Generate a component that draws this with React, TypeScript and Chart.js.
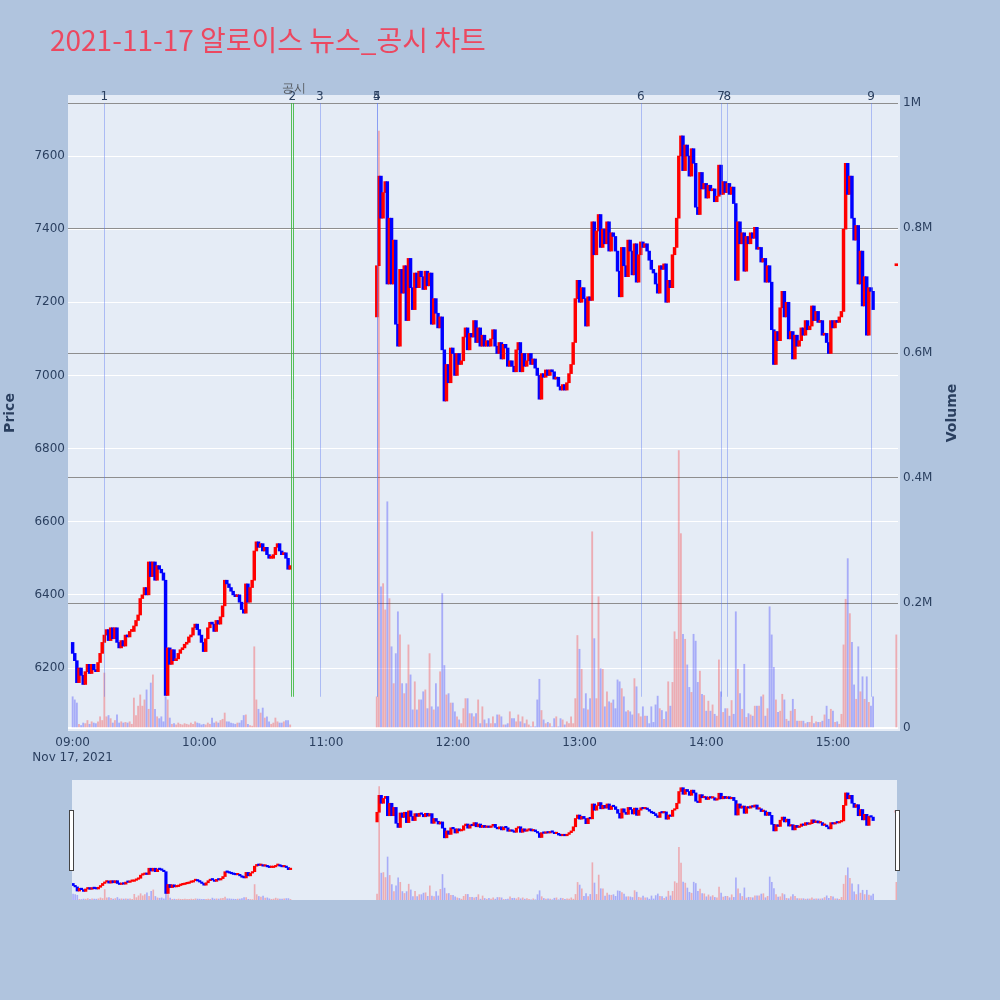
import React, { useEffect, useRef } from "react";
import { Chart, registerables } from "chart.js";

Chart.register(...registerables);

// ---------- text ----------
const TITLE = "2021-11-17 알로이스 뉴스_공시 차트";
const DATE_LABEL = "Nov 17, 2021";
const PRICE_TITLE = "Price";
const VOLUME_TITLE = "Volume";

// ---------- ticks ----------
const hourTicks = [0, 60, 120, 180, 240, 300, 360];
const hourLabels = ["09:00", "10:00", "11:00", "12:00", "13:00", "14:00", "15:00"];
const priceTicks = [6200, 6400, 6600, 6800, 7000, 7200, 7400, 7600];
const volumeTicks = [0, 200000, 400000, 600000, 800000, 1000000];
const volumeTickLabels = ["0", "0.2M", "0.4M", "0.6M", "0.8M", "1M"];

// ---------- data (minute index from 09:00) ----------
const morningStartMinute = 0;
const morningOpen = 6270;
const morningClose = [
  6240, 6220, 6160, 6200, 6180, 6155, 6190, 6210, 6185, 6210,
  6195, 6190, 6215, 6240, 6270, 6290, 6305, 6275, 6310, 6280,
  6310, 6270, 6255, 6275, 6260, 6290, 6285, 6300, 6300, 6315,
  6330, 6345, 6390, 6400, 6420, 6400, 6490, 6450, 6490, 6440,
  6480, 6470, 6460, 6440, 6125, 6255, 6210, 6250, 6220, 6225,
  6240, 6250, 6255, 6265, 6270, 6285, 6290, 6310, 6320, 6305,
  6290, 6270, 6245, 6280, 6310, 6325, 6320, 6300, 6330, 6320,
  6340, 6370, 6440, 6430, 6420, 6410, 6400, 6395, 6400, 6380,
  6360, 6350, 6430, 6380, 6420, 6440, 6520, 6545, 6530, 6540,
  6520, 6530, 6510, 6500, 6500, 6510, 6530, 6540, 6520, 6510,
  6515, 6500, 6470, 6480,
];
const morningVolumeK = [
  50, 45, 40, 6, 4, 8, 7, 12, 6, 10,
  8, 7, 10, 18, 12, 88, 18, 20, 15, 8,
  12, 21, 8, 10, 8, 9, 8, 10, 6, 48,
  20, 35, 53, 35, 45, 61, 30, 72, 85, 30,
  18, 15, 18, 10, 50, 45, 16, 6, 7, 5,
  8, 6, 5, 7, 6, 5, 8, 6, 10, 8,
  7, 5, 6, 5, 8, 6, 16, 8, 10, 8,
  12, 14, 24, 10, 10, 8, 7, 6, 8, 8,
  12, 20, 21, 6, 4, 3, 130, 45, 30, 24,
  32, 16, 18, 10, 6, 8, 16, 10, 8, 8,
  10, 12, 12, 5,
];

const afternoonStartMinute = 144;
const afternoonOpen = 7160;
const afternoonClose = [
  7300, 7545, 7430, 7500, 7530, 7250, 7430, 7250, 7370, 7140,
  7080, 7290, 7225, 7300, 7150, 7320, 7240, 7180, 7280, 7240,
  7285, 7270, 7235, 7285, 7245, 7280, 7140, 7210, 7170, 7130,
  7160, 7070, 6930, 7030, 6980, 7075, 7060, 7000, 7060, 7030,
  7040, 7105, 7130, 7070, 7115, 7105, 7150, 7090, 7130, 7080,
  7110, 7080, 7095, 7080, 7100, 7125, 7080, 7060, 7090, 7045,
  7085, 7075, 7025, 7040, 7025, 7010, 7070, 7090, 7010, 7060,
  7025, 7040, 7060, 7030, 7045, 7020, 7000, 6935, 7005, 6995,
  7015, 7000, 7015, 7010, 6990, 6995, 6970, 6960, 6975, 6960,
  6980, 7005, 7030, 7090, 7210, 7260, 7200, 7240, 7210, 7135,
  7215, 7205, 7420, 7330, 7395, 7440, 7350, 7400, 7360, 7420,
  7340, 7390, 7380, 7340, 7285, 7215, 7350, 7300, 7270, 7370,
  7340, 7275, 7360, 7255, 7330, 7365, 7350, 7360, 7340, 7315,
  7290, 7280, 7250, 7225, 7300, 7290, 7305, 7200, 7260, 7240,
  7330, 7350, 7430, 7600, 7655, 7560, 7630, 7600, 7545, 7620,
  7580, 7460, 7440, 7555, 7510, 7525, 7485, 7520, 7505, 7510,
  7475, 7490, 7575, 7495, 7530, 7500, 7525, 7495, 7515, 7470,
  7260, 7420, 7360, 7390, 7285, 7380, 7360, 7390, 7375, 7405,
  7345, 7350, 7310, 7320, 7255, 7300, 7255, 7125, 7030, 7120,
  7095, 7185, 7230, 7160, 7200, 7100, 7120, 7045, 7110, 7080,
  7095, 7130, 7110, 7150, 7125, 7135, 7190, 7150, 7175, 7145,
  7150, 7110, 7115, 7090, 7060, 7150, 7130, 7150, 7145, 7160,
  7175, 7400, 7580, 7495, 7545, 7430, 7370, 7410, 7250, 7340,
  7190, 7270, 7110, 7240, 7230, 7180,
];
const afternoonVolumeK = [
  50, 955, 226, 231, 189, 362, 207, 130, 71, 119,
  186, 149, 71, 55, 71, 133, 85, 29, 74, 29,
  45, 45, 58, 61, 31, 119, 34, 29, 71, 34,
  90, 215, 100, 53, 55, 40, 40, 26, 18, 13,
  7, 31, 47, 47, 23, 23, 18, 23, 45, 7,
  34, 13, 7, 15, 7, 18, 7, 21, 21, 18,
  5, 5, 7, 26, 15, 15, 10, 21, 10, 18,
  7, 13, 5, 2, 10, 2, 45, 78, 28, 13,
  7, 9, 7, 2, 15, 18, 2, 15, 13, 5,
  10, 7, 18, 7, 47, 148, 126, 94, 31, 55,
  29, 47, 314, 143, 47, 210, 95, 94, 34, 58,
  42, 40, 45, 31, 77, 74, 63, 50, 26, 28,
  26, 21, 79, 66, 23, 18, 34, 19, 19, 7,
  34, 9, 37, 51, 31, 28, 14, 26, 74, 35,
  73, 154, 142, 444, 311, 150, 142, 101, 65, 57,
  150, 139, 73, 91, 54, 52, 27, 43, 27, 37,
  22, 19, 109, 58, 25, 31, 31, 19, 44, 22,
  186, 94, 55, 30, 102, 17, 23, 21, 19, 35,
  35, 35, 50, 53, 19, 31, 194, 149, 97, 45,
  25, 27, 54, 45, 14, 11, 27, 46, 30, 11,
  11, 11, 11, 7, 9, 9, 19, 7, 10, 9,
  9, 11, 21, 35, 14, 30, 27, 9, 10, 6,
  22, 133, 206, 271, 183, 137, 69, 46, 130, 58,
  82, 46, 82, 41, 35, 50,
];

const closingMinute = 390;
const closingPrice = 7300;
const closingVolumeK = 149;

// news / disclosure markers
const eventMinutes = [15, 104, 117, 144, 144, 269, 307, 310, 378];
const eventLabels = ["1", "2", "3", "4", "5", "6", "7", "8", "9"];
const disclosureEventLabel = "2";
const disclosureText = "공시";
const eventLineBottomVolume = 50000;

// ---------- styles ----------
const FONT = '"DejaVu Sans", Verdana, sans-serif';
const AXIS_TEXT = "#2a3f5f";
const PAGE_BG = "#B0C4DE";
const PLOT_BG = "#E5ECF6";
const UP = "#FF0000";
const DOWN = "#0000FF";
const UP_VOL = "rgba(255,0,0,0.27)";
const DOWN_VOL = "rgba(0,0,255,0.27)";

const PRICE_MIN = 6030.5;
const PRICE_MAX = 7766.8;
const VOL_MIN = -3200;
const VOL_MAX = 1012800;

type Candle = { x: number; o: number; c: number; v: number };

function buildCandles(): Candle[] {
  const out: Candle[] = [];
  const addSeg = (start: number, open: number, closes: number[], vols: number[]) => {
    let prev = open;
    closes.forEach((c, i) => {
      out.push({ x: start + i, o: prev, c, v: (vols[i] ?? 0) * 1000 });
      prev = c;
    });
  };
  addSeg(morningStartMinute, morningOpen, morningClose, morningVolumeK);
  addSeg(afternoonStartMinute, afternoonOpen, afternoonClose, afternoonVolumeK);
  out.push({ x: closingMinute, o: closingPrice, c: closingPrice, v: closingVolumeK * 1000 });
  return out;
}

function makeDatasets(candles: Candle[], bodyW: number, volW: number, minLen: number): any[] {
  return [
    {
      type: "bar",
      label: "Price",
      yAxisID: "y",
      data: candles.map((k) => ({ x: k.x, y: [Math.min(k.o, k.c), Math.max(k.o, k.c)] })),
      backgroundColor: candles.map((k) => (k.c >= k.o ? UP : DOWN)),
      barThickness: bodyW,
      minBarLength: minLen,
      grouped: false,
      borderWidth: 0,
      order: 0,
    },
    {
      type: "bar",
      label: "Volume",
      yAxisID: "y2",
      data: candles.map((k) => ({ x: k.x, y: k.v })),
      backgroundColor: candles.map((k) => (k.c >= k.o ? UP_VOL : DOWN_VOL)),
      barThickness: volW,
      grouped: false,
      borderWidth: 0,
      order: 1,
    },
  ];
}

const mainPlugin = {
  id: "mainDecor",
  beforeDraw(chart: any) {
    const { ctx, chartArea: a } = chart;
    ctx.save();
    ctx.fillStyle = PAGE_BG;
    ctx.fillRect(0, 0, chart.width, chart.height);
    ctx.fillStyle = PLOT_BG;
    ctx.fillRect(a.left, a.top, a.right - a.left + 2, a.bottom - a.top + 1);
    ctx.restore();
  },
  afterDatasetsDraw(chart: any) {
    const { ctx, chartArea: a } = chart;
    const xs = chart.scales.x;
    const v = chart.scales.y2;
    const top = v.getPixelForValue(volumeTicks[volumeTicks.length - 1]);
    const bottom = v.getPixelForValue(eventLineBottomVolume);
    ctx.save();
    ctx.lineWidth = 1;
    eventMinutes.forEach((m, i) => {
      const x = Math.round(xs.getPixelForValue(m)) + 0.5;
      if (eventLabels[i] === disclosureEventLabel) {
        ctx.strokeStyle = "rgba(60,185,60,0.85)";
        [-1, 1].forEach((d) => {
          ctx.beginPath();
          ctx.moveTo(x + d, top);
          ctx.lineTo(x + d, bottom);
          ctx.stroke();
        });
      } else {
        ctx.strokeStyle = "rgba(90,120,240,0.42)";
        ctx.beginPath();
        ctx.moveTo(x, top);
        ctx.lineTo(x, bottom);
        ctx.stroke();
      }
    });
    ctx.font = `12px ${FONT}`;
    ctx.textAlign = "center";
    ctx.textBaseline = "middle";
    ctx.fillStyle = AXIS_TEXT;
    eventMinutes.forEach((m, i) => {
      ctx.fillText(eventLabels[i], xs.getPixelForValue(m), a.top + 2);
    });
    const di = eventLabels.indexOf(disclosureEventLabel);
    ctx.fillStyle = "rgba(60,60,60,0.8)";
    ctx.fillText(disclosureText, xs.getPixelForValue(eventMinutes[di]) + 2, a.top - 6);
    ctx.restore();
  },
  afterDraw(chart: any) {
    const { ctx } = chart;
    ctx.save();
    ctx.fillStyle = "#EC4860";
    ctx.font = '28px "Noto Sans CJK KR", sans-serif';
    ctx.textAlign = "left";
    ctx.textBaseline = "middle";
    ctx.fillText(TITLE, 50, 40);
    ctx.fillStyle = AXIS_TEXT;
    ctx.font = `bold 14px ${FONT}`;
    ctx.textAlign = "center";
    ctx.save();
    ctx.translate(10, 413);
    ctx.rotate(-Math.PI / 2);
    ctx.fillText(PRICE_TITLE, 0, 0);
    ctx.restore();
    ctx.save();
    ctx.translate(952, 413);
    ctx.rotate(-Math.PI / 2);
    ctx.fillText(VOLUME_TITLE, 0, 0);
    ctx.restore();
    ctx.restore();
  },
};

const sliderPlugin = {
  id: "sliderDecor",
  beforeDraw(chart: any) {
    const { ctx, chartArea: a } = chart;
    ctx.save();
    ctx.fillStyle = PAGE_BG;
    ctx.fillRect(0, 0, chart.width, chart.height);
    ctx.fillStyle = PLOT_BG;
    ctx.fillRect(a.left, a.top, a.right - a.left, a.bottom - a.top);
    ctx.restore();
  },
  afterDraw(chart: any) {
    const { ctx, chartArea: a } = chart;
    ctx.save();
    const hTop = a.top + 30;
    const hH = 60;
    [a.left - 3, a.right - 2].forEach((x) => {
      ctx.fillStyle = "#FFFFFF";
      ctx.fillRect(x + 0.5, hTop + 0.5, 4, hH);
      ctx.strokeStyle = "#444444";
      ctx.lineWidth = 1;
      ctx.strokeRect(x + 0.5, hTop + 0.5, 4, hH);
    });
    ctx.restore();
  },
};

export default function App() {
  const mainRef = useRef<HTMLCanvasElement>(null);
  const sliderRef = useRef<HTMLCanvasElement>(null);

  useEffect(() => {
    const candles = buildCandles();
    Chart.defaults.font.family = FONT;
    const main = new Chart(mainRef.current as HTMLCanvasElement, {
      type: "bar",
      data: { datasets: makeDatasets(candles, 2.8, 1.2, 2) },
      options: {
        responsive: false,
        animation: false,
        devicePixelRatio: 1,
        events: [],
        layout: { padding: { top: 95, left: 0, right: 0, bottom: 0 } },
        plugins: { legend: { display: false }, tooltip: { enabled: false } },
        scales: {
          x: {
            type: "linear",
            min: -2.2,
            max: 390.8,
            offset: false,
            grid: { display: false },
            border: { display: false },
            afterBuildTicks: (s: any) => {
              s.ticks = hourTicks.map((v) => ({ value: v }));
            },
            afterFit: (s: any) => {
              s.height = 45;
            },
            ticks: {
              color: AXIS_TEXT,
              font: { size: 12, family: FONT, lineHeight: 1.25 },
              padding: -3,
              maxRotation: 0,
              autoSkip: false,
              callback: (_v: any, i: number) => (i === 0 ? [hourLabels[0], DATE_LABEL] : hourLabels[i]),
            },
          },
          y: {
            type: "linear",
            position: "left",
            min: PRICE_MIN,
            max: PRICE_MAX,
            grid: { color: "#FFFFFF", lineWidth: 1, drawTicks: false },
            border: { display: false },
            afterBuildTicks: (s: any) => {
              s.ticks = priceTicks.map((v) => ({ value: v }));
            },
            afterFit: (s: any) => {
              s.width = 68;
            },
            ticks: { color: AXIS_TEXT, font: { size: 12, family: FONT }, padding: 3, callback: (v: any) => String(v) },
          },
          y2: {
            type: "linear",
            position: "right",
            min: VOL_MIN,
            max: VOL_MAX,
            grid: {
              color: (c: any) => (c.tick && c.tick.value === 0 ? "#FFFFFF" : "#8E8E8E"),
              lineWidth: (c: any) => (c.tick && c.tick.value === 0 ? 2 : 1),
              drawTicks: false,
            },
            border: { display: false },
            afterBuildTicks: (s: any) => {
              s.ticks = volumeTicks.map((v) => ({ value: v }));
            },
            afterFit: (s: any) => {
              s.width = 102;
            },
            ticks: {
              color: AXIS_TEXT,
              font: { size: 12, family: FONT },
              padding: 5,
              callback: (_v: any, i: number) => volumeTickLabels[i],
            },
          },
        },
      } as any,
      plugins: [mainPlugin],
    });

    const slider = new Chart(sliderRef.current as HTMLCanvasElement, {
      type: "bar",
      data: { datasets: makeDatasets(candles, 2.5, 1, 1.5) },
      options: {
        responsive: false,
        animation: false,
        devicePixelRatio: 1,
        events: [],
        layout: { padding: { top: 5, left: 72, right: 103, bottom: 25 } },
        plugins: { legend: { display: false }, tooltip: { enabled: false } },
        scales: {
          x: { type: "linear", display: false, min: -0.5, max: 390.3, offset: false },
          y: { type: "linear", display: false, min: PRICE_MIN, max: PRICE_MAX },
          y2: { type: "linear", display: false, min: 0, max: 1010000 },
        },
      } as any,
      plugins: [sliderPlugin],
    });

    return () => {
      main.destroy();
      slider.destroy();
    };
  }, []);

  return (
    <div style={{ position: "fixed", left: 0, top: 0, width: 1000, height: 1000, background: PAGE_BG, overflow: "hidden" }}>
      <canvas ref={mainRef} width={1000} height={775} style={{ position: "absolute", left: 0, top: 0, width: 1000, height: 775 }} />
      <canvas ref={sliderRef} width={1000} height={150} style={{ position: "absolute", left: 0, top: 775, width: 1000, height: 150 }} />
    </div>
  );
}
